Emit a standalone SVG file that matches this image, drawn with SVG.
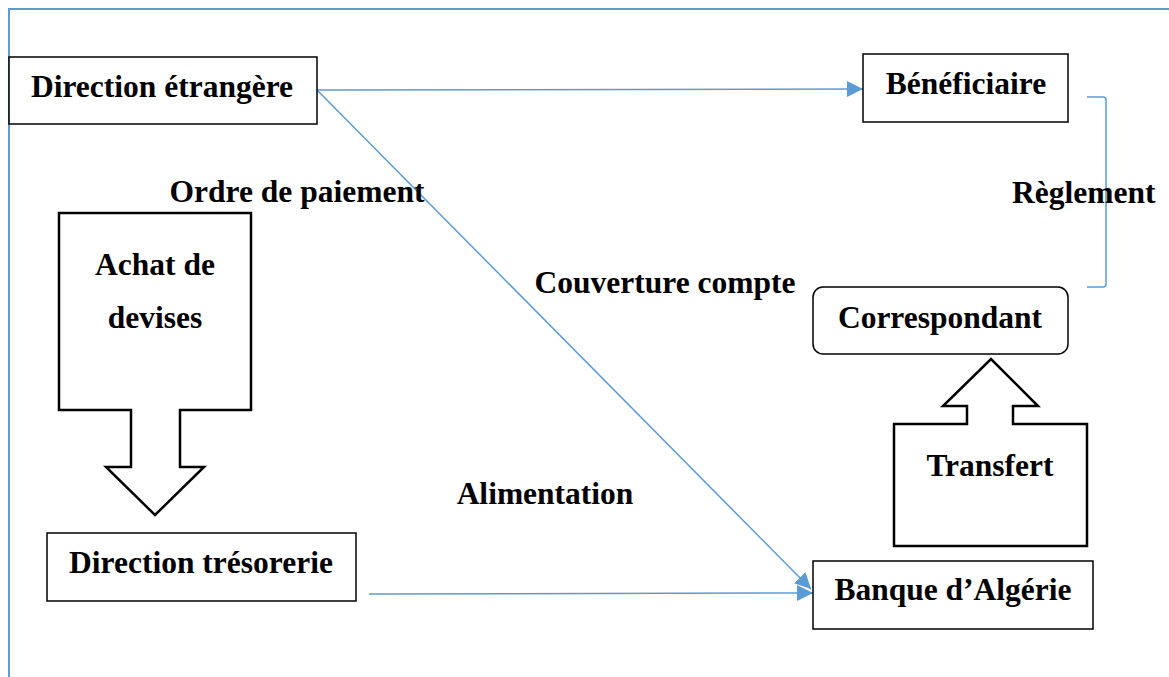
<svg xmlns="http://www.w3.org/2000/svg" width="1169" height="677" viewBox="0 0 1169 677">
  <style>
    .lbl { font-family: "Liberation Serif", "Times New Roman", serif; font-weight: bold; font-size: 31.5px; fill: #000; }
    .mid { text-anchor: middle; }
    .box { fill: #fff; stroke: #000; stroke-width: 1.5; }
    .big { fill: #fff; stroke: #000; stroke-width: 2.5; stroke-linejoin: miter; }
    .link { fill: none; stroke: #5B9BD5; stroke-width: 1.5; }
  </style>
  <defs>
    <marker id="head" viewBox="0 0 16 16" refX="16" refY="8" markerWidth="16" markerHeight="16" markerUnits="userSpaceOnUse" orient="auto">
      <path d="M0,0 L16,8 L0,16 Z" fill="#5B9BD5"/>
    </marker>
  </defs>

  <rect width="1169" height="677" fill="#fff"/>

  <!-- outer frame (left and top edges only) -->
  <path d="M9,677 L9,9 L1169,9" fill="none" stroke="#5B9BD5" stroke-width="2"/>

  <!-- connectors -->
  <g id="connectors">
    <line class="link" x1="317" y1="90" x2="863" y2="89" marker-end="url(#head)"/>
    <line class="link" x1="317" y1="90" x2="811" y2="589" marker-end="url(#head)"/>
    <line class="link" x1="369" y1="594" x2="813" y2="593" marker-end="url(#head)"/>
    <path class="link" d="M1087,97 L1103,97 Q1106,97 1106,100 L1106,284 Q1106,287 1103,287 L1087,287"/>
  </g>

  <!-- nodes -->
  <g id="direction-etrangere">
    <rect class="box" x="9" y="57" width="308" height="67"/>
    <text class="lbl mid" x="162" y="97">Direction étrangère</text>
  </g>

  <g id="beneficiaire">
    <rect class="box" x="863" y="54" width="205" height="68"/>
    <text class="lbl mid" x="966" y="94">Bénéficiaire</text>
  </g>

  <g id="correspondant">
    <rect class="box" x="813" y="287" width="255" height="67" rx="10" ry="10"/>
    <text class="lbl mid" x="940" y="328">Correspondant</text>
  </g>

  <g id="transfert">
    <path class="big" d="M894,424 L967,424 L967,406 L943,406 L991,359 L1038,406 L1013,406 L1013,424 L1087,424 L1087,546 L894,546 Z"/>
    <text class="lbl mid" x="990" y="476">Transfert</text>
  </g>

  <g id="banque-algerie">
    <rect class="box" x="813" y="561" width="280" height="68"/>
    <text class="lbl mid" x="953" y="600">Banque d’Algérie</text>
  </g>

  <g id="achat-devises">
    <path class="big" d="M59,213 L251,213 L251,410 L180,410 L180,467 L204,467 L155,515 L106,467 L131,467 L131,410 L59,410 Z"/>
    <text class="lbl mid" x="155" y="275">Achat de</text>
    <text class="lbl mid" x="155" y="328">devises</text>
  </g>

  <g id="direction-tresorerie">
    <rect class="box" x="47" y="533" width="309" height="68"/>
    <text class="lbl mid" x="201" y="573">Direction trésorerie</text>
  </g>

  <!-- flow labels -->
  <g id="labels">
    <text class="lbl mid" x="297" y="202">Ordre de paiement</text>
    <text class="lbl mid" x="665" y="293">Couverture compte</text>
    <text class="lbl mid" x="545" y="504">Alimentation</text>
    <text class="lbl" x="1012" y="203">Règlement</text>
  </g>
</svg>
